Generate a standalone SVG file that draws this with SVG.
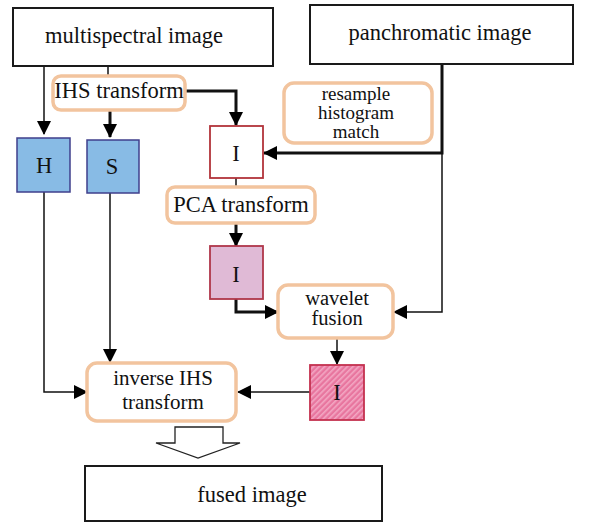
<svg xmlns="http://www.w3.org/2000/svg" width="595" height="523" viewBox="0 0 595 523">
<defs>
<style>
.box{fill:#fff;stroke:#1a1a1a;stroke-width:2}
.rbox{fill:#fff;stroke:#f2c49e;stroke-width:3.5}
.blue{fill:#88bbe5;stroke:#3f3f8c;stroke-width:1.5}
.t{font-family:"Liberation Serif","Times New Roman",serif;font-size:22.5px;fill:#111;text-anchor:middle}
.s{font-size:20.5px}
.r{font-size:19px}
.v{font-size:21px}
.ln{fill:none;stroke:#111;stroke-width:1.5}
.lnb{fill:none;stroke:#111;stroke-width:3}
</style>
<marker id="ah" markerUnits="userSpaceOnUse" markerWidth="14" markerHeight="14" viewBox="0 0 14 14" refX="13" refY="7" orient="auto">
<path d="M0,0 L14,7 L0,14 Z" fill="#000"/>
</marker>
<pattern id="hatch" patternUnits="userSpaceOnUse" width="4" height="4" patternTransform="rotate(45)">
<rect width="4" height="4" fill="#e8769f"/>
<rect width="1.6" height="4" fill="#f3a7c3"/>
</pattern>
</defs>
<g id="connectors">
<path class="ln" d="M44,66 V134" marker-end="url(#ah)"/>
<path class="ln" d="M108,66 V76"/>
<path class="lnb" d="M110,110 V137" marker-end="url(#ah)"/>
<path class="lnb" d="M185,91 H236 V125" marker-end="url(#ah)"/>
<path class="lnb" d="M442,64 V153 H264" marker-end="url(#ah)"/>
<path class="ln" d="M442,153 V312 H394" marker-end="url(#ah)"/>
<path class="ln" d="M236,178 V187"/>
<path class="lnb" d="M236,223 V246" marker-end="url(#ah)"/>
<path class="lnb" d="M236,299 V312 H278" marker-end="url(#ah)"/>
<path class="ln" d="M337,338 V364" marker-end="url(#ah)"/>
<path class="ln" d="M310,392 H238" marker-end="url(#ah)"/>
<path class="ln" d="M44,192 V392 H87" marker-end="url(#ah)"/>
<path class="ln" d="M110,193 V362" marker-end="url(#ah)"/>
<path d="M175,427 H223 V443 H240 L198,458 L156,443 H175 Z" fill="#fff" stroke="#222" stroke-width="1.3"/>
</g>
<g id="multispectral">
<rect class="box" x="13" y="8" width="260" height="58"/>
<text class="t" x="134" y="43">multispectral image</text>
</g>
<g id="panchromatic">
<rect class="box" x="310" y="5" width="263" height="59"/>
<text class="t" x="440" y="40">panchromatic image</text>
</g>
<g id="ihs">
<rect class="rbox" x="53" y="76" width="132" height="34" rx="8"/>
<text class="t" x="119" y="98">IHS transform</text>
</g>
<g id="resample">
<rect class="rbox" x="284" y="83" width="148" height="60" rx="10"/>
<text class="t r" x="356" y="99.5">resample</text>
<text class="t r" x="356" y="118.5">histogram</text>
<text class="t r" x="356" y="137.5">match</text>
</g>
<g id="h">
<rect class="blue" x="17" y="138" width="53" height="54"/>
<text class="t" x="44" y="173">H</text>
</g>
<g id="s">
<rect class="blue" x="87" y="140" width="52" height="53"/>
<text class="t" x="112" y="174">S</text>
</g>
<g id="i1">
<rect x="210" y="126" width="53" height="52" fill="#fff" stroke="#b2333a" stroke-width="1.8"/>
<text class="t" x="236" y="161">I</text>
</g>
<g id="pca">
<rect class="rbox" x="167" y="187" width="148" height="36" rx="8"/>
<text class="t" x="241" y="212">PCA transform</text>
</g>
<g id="i2">
<rect x="210" y="246" width="53" height="53" fill="#e0bad6" stroke="#b0374a" stroke-width="1.8"/>
<text class="t" x="236" y="282">I</text>
</g>
<g id="wavelet">
<rect class="rbox" x="278" y="285" width="115" height="53" rx="10"/>
<text class="t s" x="337" y="305">wavelet</text>
<text class="t s" x="337" y="325">fusion</text>
</g>
<g id="i3">
<rect x="310" y="365" width="54" height="55" fill="url(#hatch)" stroke="#c4314f" stroke-width="1.8"/>
<text class="t" x="337" y="400">I</text>
</g>
<g id="inverse">
<rect class="rbox" x="87" y="363" width="149" height="58" rx="10"/>
<text class="t v" x="163" y="385">inverse IHS</text>
<text class="t v" x="163" y="409">transform</text>
</g>
<g id="fused">
<rect class="box" x="85" y="466" width="297" height="55"/>
<text class="t" x="252" y="502">fused image</text>
</g>
</svg>
